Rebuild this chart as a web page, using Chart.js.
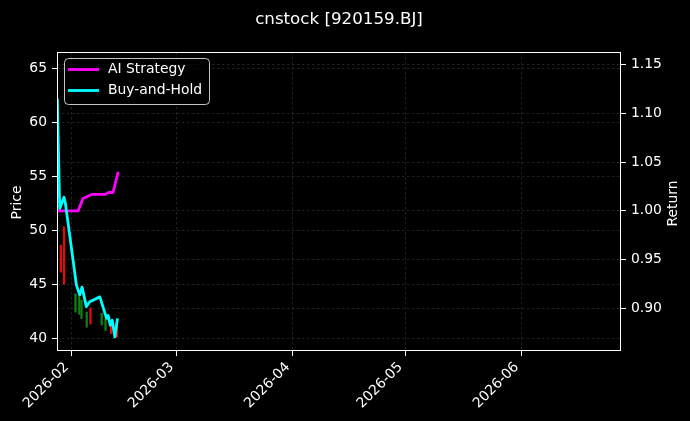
<!DOCTYPE html>
<html>
<head>
<meta charset="utf-8">
<script src="https://cdn.jsdelivr.net/npm/chart.js@4.4.1/dist/chart.umd.min.js"></script>
<style>
  html, body { margin: 0; padding: 0; background: #000; }
  #wrap { width: 690px; height: 421px; }
</style>
</head>
<body>
<div id="wrap"><canvas id="chart" width="690" height="421"></canvas></div>
<script>
// x values are days counted from 2026-02-01
const monthTicks = [0, 28, 59, 89, 120];
const monthLabels = ['2026-02', '2026-03', '2026-04', '2026-05', '2026-06'];
const priceTicks = [40, 45, 50, 55, 60, 65];
const returnTicks = [0.90, 0.95, 1.00, 1.05, 1.10, 1.15];

// AI Strategy (return axis)
const aiDays = [-3.9, 1.7, 3.0, 3.9, 5.3, 8.8, 9.9, 11.0, 12.4];
const aiReturn = [1.0, 1.0, 1.0127, 1.0143, 1.0168, 1.0168, 1.0188, 1.0188, 1.0399];

// Buy-and-Hold (return axis)
const bhDays = [-3.85, -3.2, -2.05, -1.68, 1.25, 2.14, 2.75, 3.9, 4.8, 7.5, 9.3, 9.7, 10.3, 10.8, 11.5, 12.2];
const bhReturn = [1.115, 1.0025, 1.014, 1.0076, 0.924, 0.914, 0.922, 0.902, 0.907, 0.912, 0.890, 0.893, 0.883, 0.888, 0.871, 0.890];

// price candles (price axis)
const candleDays = [-2.9, -2.05, 1.0, 2.0, 2.6, 4.0, 5.0, 8.0, 9.0, 10.5, 12.1];
const candleLow = [46.1, 45.0, 42.4, 42.2, 41.8, 41.0, 41.3, 41.2, 40.7, 40.4, 40.1];
const candleHigh = [48.6, 50.3, 44.1, 43.9, 43.5, 42.4, 42.8, 42.3, 41.8, 41.5, 41.2];
const candleUp = [false, false, true, true, true, true, false, true, true, false, false];

const FONT = 'DejaVu Sans';

function toPoints(xs, ys) {
    return xs.map((x, i) => ({ x: x, y: ys[i] }));
}

const decorations = {
    id: 'decorations',
    beforeDraw(chart) {
        const ctx = chart.ctx;
        ctx.save();
        ctx.fillStyle = '#000';
        ctx.fillRect(0, 0, chart.width, chart.height);
        ctx.restore();
    },
    afterDraw(chart) {
        const ctx = chart.ctx;
        const area = chart.chartArea;
        ctx.save();

        // frame
        ctx.strokeStyle = '#fff';
        ctx.lineWidth = 1;
        ctx.strokeRect(area.left + 0.5, area.top + 0.5, area.right - area.left - 1, area.bottom - area.top - 1);

        // title
        ctx.fillStyle = '#fff';
        ctx.font = '16.7px "' + FONT + '"';
        ctx.textAlign = 'center';
        ctx.textBaseline = 'alphabetic';
        ctx.fillText('cnstock [920159.BJ]', (area.left + area.right) / 2, 24);

        // axis labels
        const midY = (area.top + area.bottom) / 2;
        ctx.font = '13.9px "' + FONT + '"';
        ctx.textBaseline = 'middle';
        ctx.save();
        ctx.translate(17, midY + 1);
        ctx.rotate(-Math.PI / 2);
        ctx.fillText('Price', 0, 0);
        ctx.restore();
        ctx.save();
        ctx.translate(673, midY + 2);
        ctx.rotate(-Math.PI / 2);
        ctx.fillText('Return', 0, 0);
        ctx.restore();

        // legend
        const lx = 64, ly = 58, lw = 145, lh = 46;
        ctx.beginPath();
        ctx.roundRect(lx + 0.5, ly + 0.5, lw, lh, 4);
        ctx.fillStyle = 'rgba(0,0,0,0.8)';
        ctx.fill();
        ctx.strokeStyle = 'rgba(230,230,230,0.85)';
        ctx.stroke();

        const entries = [
            { label: 'AI Strategy', color: '#ff00ff', y: 69.5 },
            { label: 'Buy-and-Hold', color: '#00ffff', y: 90.5 }
        ];
        entries.forEach(e => {
            ctx.strokeStyle = e.color;
            ctx.lineWidth = 2.8;
            ctx.beginPath();
            ctx.moveTo(68, e.y);
            ctx.lineTo(99, e.y);
            ctx.stroke();
            ctx.fillStyle = '#fff';
            ctx.textAlign = 'left';
            ctx.textBaseline = 'middle';
            ctx.fillText(e.label, 108, e.y);
        });

        ctx.restore();
    }
};

const gridStyle = {
    color: 'rgba(110,110,110,0.5)',
    lineWidth: 0.6,
    tickColor: '#fff',
    tickLength: 5,
    tickWidth: 1,
    offset: false
};

const ctx = document.getElementById('chart').getContext('2d');
const chart = new Chart(ctx, {
    type: 'line',
    data: {
        datasets: [
            {
                type: 'line',
                label: 'Buy-and-Hold',
                data: toPoints(bhDays, bhReturn),
                borderColor: '#00ffff',
                borderWidth: 2.8,
                pointRadius: 0,
                tension: 0,
                borderJoinStyle: 'round',
                yAxisID: 'y1',
                order: 1
            },
            {
                type: 'line',
                label: 'AI Strategy',
                data: toPoints(aiDays, aiReturn),
                borderColor: '#ff00ff',
                borderWidth: 2.8,
                pointRadius: 0,
                tension: 0,
                borderJoinStyle: 'round',
                yAxisID: 'y1',
                order: 2
            },
            {
                type: 'bar',
                label: 'Price',
                data: candleDays.map((d, i) => ({ x: d, y: [candleLow[i], candleHigh[i]] })),
                backgroundColor: candleUp.map(u => u ? 'rgba(20,140,20,0.9)' : 'rgba(255,10,10,0.9)'),
                barThickness: 1.6,
                yAxisID: 'y',
                order: 3
            }
        ]
    },
    options: {
        responsive: false,
        animation: false,
        layout: {
            padding: { top: 52, left: 0, right: 0, bottom: 0 }
        },
        plugins: {
            legend: { display: false },
            tooltip: { enabled: false },
            title: { display: false }
        },
        scales: {
            x: {
                type: 'linear',
                offset: false,
                min: -3.93,
                max: 146.5,
                afterBuildTicks: scale => {
                    scale.ticks = monthTicks.map(v => ({ value: v }));
                },
                afterFit: scale => {
                    scale.height = 70;
                },
                ticks: {
                    color: '#fff',
                    autoSkip: false,
                    maxRotation: 45,
                    minRotation: 45,
                    padding: 3,
                    labelOffset: -5,
                    font: { family: FONT, size: 13.9 },
                    callback: (value, index) => monthLabels[index]
                },
                grid: gridStyle,
                border: { display: false, dash: [2.5, 2.5] }
            },
            y: {
                type: 'linear',
                position: 'left',
                min: 38.8,
                max: 66.5,
                afterBuildTicks: scale => {
                    scale.ticks = priceTicks.map(v => ({ value: v }));
                },
                afterFit: scale => {
                    scale.width = 57;
                },
                ticks: {
                    color: '#fff',
                    padding: 5,
                    font: { family: FONT, size: 13.9 },
                    callback: value => String(value)
                },
                grid: gridStyle,
                border: { display: false, dash: [2.5, 2.5] }
            },
            y1: {
                type: 'linear',
                position: 'right',
                min: 0.8566,
                max: 1.1626,
                afterBuildTicks: scale => {
                    scale.ticks = returnTicks.map(v => ({ value: v }));
                },
                afterFit: scale => {
                    scale.width = 69;
                },
                ticks: {
                    color: '#fff',
                    padding: 5,
                    font: { family: FONT, size: 13.9 },
                    callback: value => value.toFixed(2)
                },
                grid: gridStyle,
                border: { display: false, dash: [2.5, 2.5] }
            }
        }
    },
    plugins: [decorations]
});
</script>
</body>
</html>
